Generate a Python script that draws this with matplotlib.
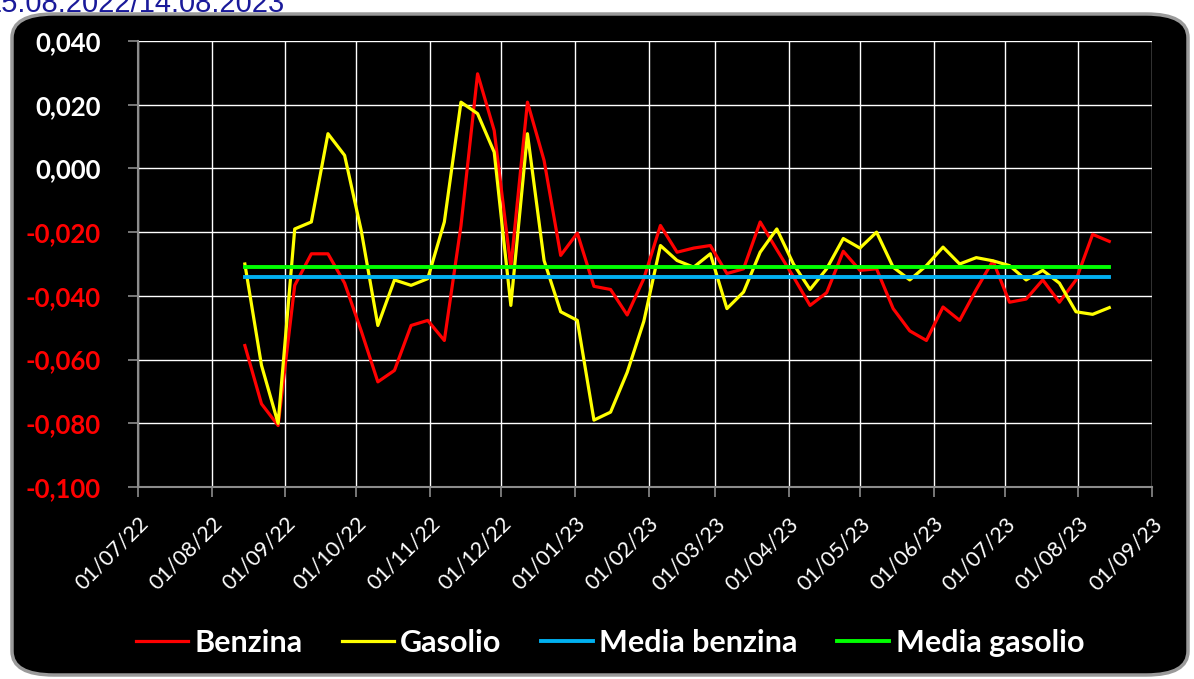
import numpy as np
import pandas as pd
import matplotlib
matplotlib.use('Agg')
import matplotlib.pyplot as plt
import matplotlib.dates as mdates
from matplotlib.patches import FancyBboxPatch
from matplotlib.ticker import FuncFormatter

# weekly values 15/08/2022 - 14/08/2023
dates = pd.date_range('2022-08-15', periods=53, freq='7D')

benzina = [-0.0556, -0.0739, -0.0807, -0.0367, -0.0268, -0.0268, -0.0360, -0.0510,
           -0.0670, -0.0634, -0.0493, -0.0477, -0.0540, -0.0180, 0.0297, 0.0119,
           -0.0310, 0.0208, 0.0025, -0.0273, -0.0203, -0.0370, -0.0380, -0.0460,
           -0.0346, -0.0179, -0.0263, -0.0250, -0.0242, -0.0330, -0.0315, -0.0168,
           -0.0255, -0.0340, -0.0430, -0.0390, -0.0260, -0.0320, -0.0315, -0.0440,
           -0.0510, -0.0540, -0.0435, -0.0477, -0.0380, -0.0290, -0.0420, -0.0410,
           -0.0350, -0.0420, -0.0350, -0.0207, -0.0229]

gasolio = [-0.0300, -0.0618, -0.0800, -0.0190, -0.0168, 0.0109, 0.0041, -0.0195,
           -0.0493, -0.0350, -0.0367, -0.0346, -0.0168, 0.0208, 0.0172, 0.0051,
           -0.0430, 0.0109, -0.0289, -0.0450, -0.0477, -0.0790, -0.0765, -0.0640,
           -0.0480, -0.0242, -0.0289, -0.0310, -0.0268, -0.0440, -0.0388, -0.0263,
           -0.0190, -0.0300, -0.0380, -0.0315, -0.0220, -0.0250, -0.0200, -0.0310,
           -0.0350, -0.0305, -0.0247, -0.0300, -0.0280, -0.0290, -0.0305, -0.0350,
           -0.0320, -0.0360, -0.0450, -0.0458, -0.0437]

media_benzina = -0.0341
media_gasolio = -0.0310

fig = plt.figure(figsize=(11.94, 6.79), dpi=100)
fig.patch.set_facecolor('white')

# black rounded panel
panel = FancyBboxPatch((12 / 1194, 4 / 679), 1176 / 1194, 661 / 679,
                       boxstyle='round,pad=0,rounding_size=0.035',
                       transform=fig.transFigure, facecolor='black',
                       edgecolor='#9a9a9a', linewidth=2.5, zorder=-5)
fig.patches.append(panel)

fig.text(-0.012, 1.015, '15.08.2022/14.08.2023', color='#1a1a9a',
         fontsize=21, family='Liberation Sans', va='top', ha='left')

ax = fig.add_axes([138 / 1194, 1 - 487 / 679, (1152 - 138) / 1194, (487 - 41) / 679])
ax.set_zorder(2)
ax.set_facecolor('black')

ax.plot(dates, benzina, color='#ff0000', lw=2.3, label='Benzina', zorder=3)
ax.plot(dates, gasolio, color='#ffff00', lw=2.3, label='Gasolio', zorder=3)
ax.plot(dates, [media_benzina] * len(dates), color='#00b0f0', lw=2.8,
        label='Media benzina', zorder=4)
ax.plot(dates, [media_gasolio] * len(dates), color='#00ff00', lw=2.8,
        label='Media gasolio', zorder=4)

ax.set_xlim(pd.Timestamp('2022-07-01'), pd.Timestamp('2023-09-01'))
ax.set_ylim(-0.1, 0.04)
ax.set_yticks(np.arange(-0.1, 0.0401, 0.02))
ax.xaxis.set_major_locator(mdates.MonthLocator())
ax.xaxis.set_major_formatter(mdates.DateFormatter('%d/%m/%y'))

ax.yaxis.set_major_formatter(FuncFormatter(lambda v, p: f'{v:.3f}'.replace('.', ',').replace('-0,000', '0,000')))

ax.grid(True, color='white', lw=1.0)
ax.set_axisbelow(True)
for s in ['top', 'right']:
    ax.spines[s].set_visible(False)
for s in ['left', 'bottom']:
    ax.spines[s].set_color('#8c8c8c')
    ax.spines[s].set_linewidth(1.5)

ax.tick_params(axis='both', colors='#8c8c8c', length=7, width=1.2)
ax.tick_params(axis='y', pad=20)
ax.tick_params(axis='x', pad=12)
for lab, v in zip(ax.get_yticklabels(), ax.get_yticks()):
    lab.set_color('white' if v > -0.001 else '#ff0000')
    lab.set_fontweight('bold')
    lab.set_fontsize(18.5)
    lab.set_family('Lato')
for lab in ax.get_xticklabels():
    lab.set_color('white')
    lab.set_fontsize(15.5)
    lab.set_family('Lato')
    lab.set_rotation(45)
    lab.set_ha('right')
    lab.set_rotation_mode('anchor')

leg = fig.legend(loc='center', bbox_to_anchor=(0.511, 1 - 643 / 679), ncol=4,
                 frameon=False, handlelength=1.7, columnspacing=1.3,
                 handletextpad=0.2, prop={'family': 'Lato', 'weight': 'bold', 'size': 22})
for t in leg.get_texts():
    t.set_color('white')

fig.savefig('out.png', dpi=100, facecolor='white')
